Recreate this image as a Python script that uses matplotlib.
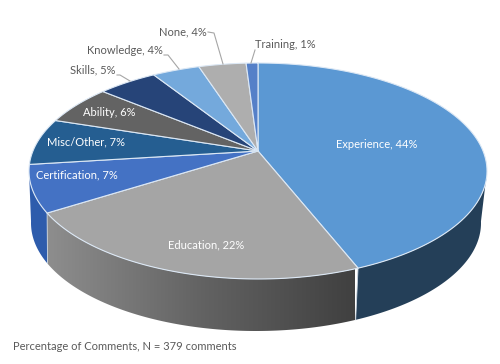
import numpy as np
import matplotlib
matplotlib.use("Agg")
import matplotlib.pyplot as plt
from matplotlib.colors import LinearSegmentedColormap
from matplotlib.patches import Polygon

categories = ["Experience", "Education", "Certification", "Misc/Other", "Ability",
              "Skills", "Knowledge", "None", "Training"]
values = [44, 22, 7, 7, 6, 5, 4, 4, 1]
colors = ["#5B98D3", "#A5A5A5", "#4472C4", "#255E91", "#636363",
          "#264478", "#74A9DC", "#AEAEAE", "#5580C8"]
footer = "Percentage of Comments, N = 379 comments"

plt.rcParams["font.family"] = ["Lato", "DejaVu Sans"]
fig = plt.figure(figsize=(5.0, 3.64), dpi=100)
ax = fig.add_axes([0, 0, 1, 1])
ax.set_xlim(0, 500)
ax.set_ylim(364, 0)
ax.axis("off")

BOOST = 0.185
BOOST_LOW = 0.2


def project(frac, cx, cy, rx, ry, b):
    a = 2 * np.pi * np.asarray(frac, dtype=float)
    x, y = np.sin(a), np.cos(a)
    d = 1 + b * y
    X = x * np.sqrt(1 - b ** 2) / d
    Y = (y + b) / d
    return cx + rx * X, cy - ry * Y


TOP = (258, 171, 229, 108, BOOST)
BOT = (256, 223, 225, 108, BOOST_LOW)
apex = project(0, *TOP)[0], 171 - 108 * BOOST

edges = np.concatenate([[0], np.cumsum(values)]) / sum(values)
left_ext = 1 - np.arccos(-BOOST) / (2 * np.pi)
right_ext = np.arccos(-BOOST) / (2 * np.pi)


def side_poly(f0, f1):
    t = np.linspace(f0, f1, 120)
    x0, y0 = project(t, *TOP)
    x1, y1 = project(t[::-1], *BOT)
    return np.column_stack([np.r_[x0, x1], np.r_[y0, y1]])


# side walls
ax.add_patch(Polygon(side_poly(right_ext, edges[1]), fc="#243F58", ec="none", zorder=1))
ax.add_patch(Polygon(side_poly(edges[2], left_ext), fc="#2E5CAC", ec="none", zorder=1))
edu = Polygon(side_poly(edges[1], edges[2]), fc="none", ec="none", zorder=1)
ax.add_patch(edu)
cmap = LinearSegmentedColormap.from_list("edu", ["#404040", "#636363", "#8E8E8E"])
im = ax.imshow(np.linspace(0, 1, 256)[None, :], cmap=cmap, aspect="auto",
               extent=(355, 46, 335, 205), zorder=1)
im.set_clip_path(edu)
ax.set_xlim(0, 500)
ax.set_ylim(364, 0)

# vertical seams
for e in (edges[1], edges[2]):
    xa, ya = project(e, *TOP)
    xb, yb = project(e, *BOT)
    ax.plot([xa, xb], [ya, yb], color="#C9D4DF", lw=0.6, zorder=2)

# top surface
for i, c in enumerate(colors):
    t = np.linspace(edges[i], edges[i + 1], 100)
    x, y = project(t, *TOP)
    pts = np.column_stack([np.r_[apex[0], x], np.r_[apex[1], y]])
    ax.add_patch(Polygon(pts, fc=c, ec="#DCE8F5", lw=0.8, joinstyle="round", zorder=3))

# leader lines
leader = "#A6A6A6"
ax.plot([208, 214, 223], [32, 33, 64], color=leader, lw=0.8, zorder=4)
ax.plot([164, 168, 179], [55, 55, 69], color=leader, lw=0.8, zorder=4)
ax.plot([117, 120, 130], [75, 75, 81], color=leader, lw=0.8, zorder=4)
ax.plot([255, 251], [50, 63], color=leader, lw=0.8, zorder=4)

# labels
FS = 8.0
dark = "#5A5A5A"
lab = [f"{c}, {v}%" for c, v in zip(categories, values)]
ax.text(377, 144, lab[0], color="white", fontsize=FS, ha="center", va="center", zorder=5)
ax.text(206, 245, lab[1], color="white", fontsize=FS, ha="center", va="center", zorder=5)
ax.text(77, 175, lab[2], color="white", fontsize=FS, ha="center", va="center", zorder=5)
ax.text(86, 142, lab[3], color="white", fontsize=FS, ha="center", va="center", zorder=5)
ax.text(109, 112, lab[4], color="white", fontsize=FS, ha="center", va="center", zorder=5)
ax.text(115, 70, lab[5], color=dark, fontsize=FS, ha="right", va="center", zorder=5)
ax.text(163, 50, lab[6], color=dark, fontsize=FS, ha="right", va="center", zorder=5)
ax.text(207, 32, lab[7], color=dark, fontsize=FS, ha="right", va="center", zorder=5)
ax.text(255, 45, lab[8], color=dark, fontsize=FS, ha="left", va="center", zorder=5)
ax.text(13, 347, footer, color=dark, fontsize=FS, ha="left", va="center", zorder=5)

fig.savefig("out.png", dpi=100, facecolor="white")
